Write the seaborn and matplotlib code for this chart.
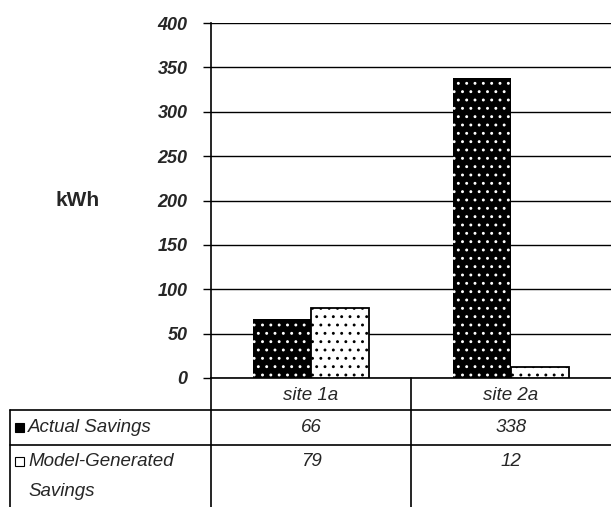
import matplotlib
matplotlib.use("Agg")
import matplotlib.pyplot as plt
import seaborn as sns
import pandas as pd
from matplotlib.lines import Line2D
from matplotlib.patches import Rectangle

sites = ["site 1a", "site 2a"]
series = ["Actual Savings", "Model-Generated Savings"]
actual = [66, 338]
model = [79, 12]
yticks = [0, 50, 100, 150, 200, 250, 300, 350, 400]

df = pd.DataFrame({
    "site": sites * 2,
    "series": [series[0]] * 2 + [series[1]] * 2,
    "kWh": actual + model,
})

sns.set_theme(style="white")
plt.rcParams["font.family"] = ["Liberation Sans", "DejaVu Sans"]
plt.rcParams["hatch.linewidth"] = 0.9

W, H = 611, 507
fig = plt.figure(figsize=(W / 100, H / 100), dpi=100)

def fx(x):
    return x / W

def fy(y):
    return 1 - y / H

ax_left, ax_right, ax_top, ax_bot = 211, 611, 23, 378
ax = fig.add_axes([fx(ax_left), fy(ax_bot), fx(ax_right - ax_left), fy(ax_top) - fy(ax_bot)])

sns.barplot(data=df, x="site", y="kWh", hue="series", palette=["black", "white"],
            width=0.58, gap=0, ax=ax, legend=False, errorbar=None, zorder=3)

n = len(sites)
for i, p in enumerate(ax.patches[:2 * n]):
    if i < n:
        p.set_facecolor("black")
        p.set_edgecolor("white")
        p.set_hatch("..")
        p.set_linewidth(0)
    else:
        p.set_facecolor("white")
        p.set_edgecolor("black")
        p.set_hatch("..")
        p.set_linewidth(1.3)

ax.set_ylim(0, 400)
ax.set_xlim(-0.5, 1.5)
ax.set_yticks(yticks)
ax.set_yticklabels([str(t) for t in yticks], fontsize=13, fontweight="bold", fontstyle="italic")
ax.tick_params(axis="y", length=6, width=1, color="black", direction="out", pad=11, left=True)
ax.tick_params(axis="x", bottom=False, labelbottom=False)
ax.yaxis.grid(True, color="black", linewidth=1)
ax.set_axisbelow(True)
ax.set_xlabel("")
ax.set_ylabel("")
for s in ["top", "right"]:
    ax.spines[s].set_visible(False)
for s in ["left", "bottom"]:
    ax.spines[s].set_color("black")
    ax.spines[s].set_linewidth(1.2)

fig.text(fx(78), fy(200), "kWh", fontsize=15, fontweight="bold", ha="center", va="center")

# data table lines
def hline(y, x0, x1):
    fig.add_artist(Line2D([fx(x0), fx(x1)], [fy(y), fy(y)], color="black", lw=1.2))

def vline(x, y0, y1):
    fig.add_artist(Line2D([fx(x), fx(x)], [fy(y0), fy(y1)], color="black", lw=1.2))

hline(410, 10, 611)
hline(445, 10, 611)
vline(10, 410, 507)
vline(211, 378, 507)
vline(411, 378, 507)

tfs = 13.5
centers = [311, 511]
for c, s in zip(centers, sites):
    fig.text(fx(c), fy(395), s, fontsize=tfs, fontstyle="italic", ha="center", va="center")
for c, v in zip(centers, actual):
    fig.text(fx(c), fy(427), str(v), fontsize=tfs, fontstyle="italic", ha="center", va="center")
for c, v in zip(centers, model):
    fig.text(fx(c), fy(461), str(v), fontsize=tfs, fontstyle="italic", ha="center", va="center")

# legend keys
fig.add_artist(Rectangle((fx(15), fy(432)), fx(9), fy(423) - fy(432), transform=fig.transFigure,
                         facecolor="black", edgecolor="black", lw=0.8))
fig.add_artist(Rectangle((fx(15), fy(466)), fx(9), fy(457) - fy(466), transform=fig.transFigure,
                         facecolor="white", edgecolor="black", lw=0.8))
fig.text(fx(28), fy(427), "Actual Savings", fontsize=tfs, fontstyle="italic", ha="left", va="center")
fig.text(fx(28), fy(461), "Model-Generated", fontsize=tfs, fontstyle="italic", ha="left", va="center")
fig.text(fx(28), fy(492), "Savings", fontsize=tfs, fontstyle="italic", ha="left", va="center")

fig.savefig("out.png", dpi=100)
